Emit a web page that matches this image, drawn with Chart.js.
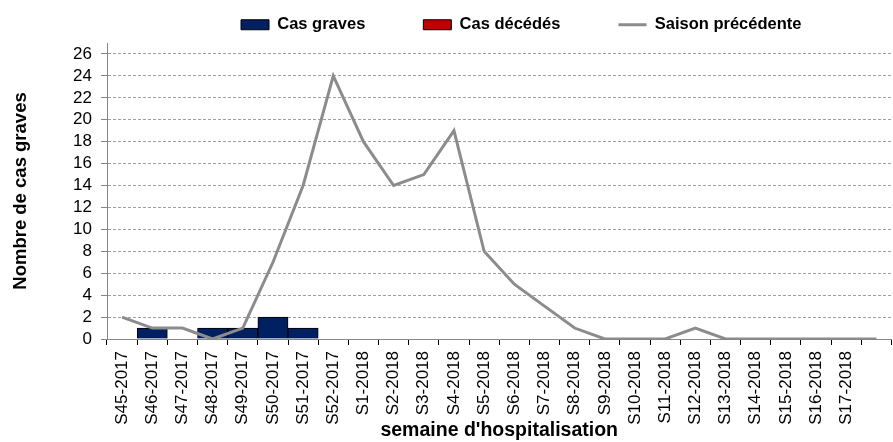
<!DOCTYPE html>
<html><head><meta charset="utf-8">
<script src="https://cdn.jsdelivr.net/npm/chart.js@4/dist/chart.umd.min.js"></script>
<style>html,body{margin:0;padding:0;overflow:hidden;background:#fff;width:893px;height:442px}</style>
</head><body>
<canvas id="c" width="903" height="442" style="display:block;width:903px;height:442px"></canvas>
<script>
const categories = ['S45-2017','S46-2017','S47-2017','S48-2017','S49-2017','S50-2017','S51-2017','S52-2017',
  'S1-2018','S2-2018','S3-2018','S4-2018','S5-2018','S6-2018','S7-2018','S8-2018','S9-2018','S10-2018',
  'S11-2018','S12-2018','S13-2018','S14-2018','S15-2018','S16-2018','S17-2018',''];
const casGraves = [0,1,0,1,1,2,1,0,0,0,0,0,0,0,0,0,0,0,0,0,0,0,0,0,0,0];
const casDecedes = [0,0,0,0,0,0,0,0,0,0,0,0,0,0,0,0,0,0,0,0,0,0,0,0,0,0];
const saisonPrecedente = [2,1,1,0,1,7,14,24,18,14,15,19,8,5,3,1,0,0,0,1,0,0,0,0,0,0];
const yTicks = [0,2,4,6,8,10,12,14,16,18,20,22,24,26];
const seriesNames = ['Cas graves','Cas décédés','Saison précédente'];
const axisTitleY = 'Nombre de cas graves';
const axisTitleX = "semaine d'hospitalisation";

const FONT = 'Liberation Sans, Arial, sans-serif';
const NAVY = '#002060', RED = '#C00000', GREY = '#8C8C8C';
const CLEAR = 'rgba(0,0,0,0)';

const legendShift = { id: 'legendShift', afterLayout(chart) {
  const l = chart.legend; if (!l) return;
  l.left += 22; l.right += 22;
}};

new Chart(document.getElementById('c'), {
  data: {
    labels: categories,
    datasets: [
      { type: 'bar', label: seriesNames[0], data: casGraves,
        backgroundColor: c => c.raw ? NAVY : CLEAR, borderColor: c => c.raw ? '#000' : CLEAR,
        borderWidth: c => c.raw ? 1 : 0, barPercentage: 1, categoryPercentage: 1, grouped: false, order: 2 },
      { type: 'bar', label: seriesNames[1], data: casDecedes,
        backgroundColor: c => c.raw ? RED : CLEAR, borderColor: c => c.raw ? '#000' : CLEAR,
        borderWidth: c => c.raw ? 1 : 0, barPercentage: 1, categoryPercentage: 1, grouped: false, order: 1 },
      { type: 'line', label: seriesNames[2], data: saisonPrecedente, borderColor: GREY, backgroundColor: GREY,
        borderWidth: 3, pointRadius: 0, tension: 0, order: 0 }
    ]
  },
  options: {
    responsive: false, animation: false, devicePixelRatio: 1,
    layout: { padding: { top: -41.5, left: 10, right: 0, bottom: 0 } },
    plugins: {
      tooltip: { enabled: false },
      legend: {
        position: 'top', fullSize: false,
        labels: {
          usePointStyle: true, pointStyleWidth: 28, boxHeight: 10, padding: 58, color: '#000',
          font: { family: FONT, size: 16.5, weight: 'bold' },
          generateLabels(chart) {
            const fills = [NAVY, RED, GREY];
            return chart.data.datasets.map((ds, i) => ({
              text: ds.label, datasetIndex: i, hidden: false,
              pointStyle: i < 2 ? 'rect' : 'line',
              fillStyle: fills[i],
              strokeStyle: i < 2 ? '#000' : GREY,
              lineWidth: i < 2 ? 1 : 3, fontColor: '#000'
            }));
          }
        }
      }
    },
    scales: {
      x: {
        offset: true,
        grid: { display: true, drawOnChartArea: false, drawTicks: true, tickLength: 6, tickColor: '#000', offset: true },
        border: { color: '#868686', width: 1 },
        ticks: { autoSkip: false, minRotation: 90, maxRotation: 90, padding: 6, color: '#000',
          font: { family: FONT, size: 17 } },
        title: { display: true, text: axisTitleX, color: '#000', padding: { top: 0, bottom: 0 },
          font: { family: FONT, size: 19.5, weight: 'bold' } },
        afterFit(s) { s.height = 103; }
      },
      y: {
        min: 0, max: 27,
        afterBuildTicks(s) { s.ticks = yTicks.map(v => ({ value: v })); },
        grid: { color: c => c.tick && c.tick.value === 0 ? CLEAR : '#A0A0A0', lineWidth: 1,
          drawTicks: true, tickLength: 6, tickColor: '#868686', tickBorderDash: [] },
        border: { color: '#868686', width: 1, dash: [3, 2] },
        ticks: { autoSkip: false, padding: 9, color: '#000', font: { family: FONT, size: 17 } },
        title: { display: true, text: axisTitleY, color: '#000', padding: { top: 0, bottom: 0 },
          font: { family: FONT, size: 18.5, weight: 'bold' } },
        afterFit(s) { s.width = 97; }
      }
    }
  },
  plugins: [legendShift]
});
</script>
</body></html>
